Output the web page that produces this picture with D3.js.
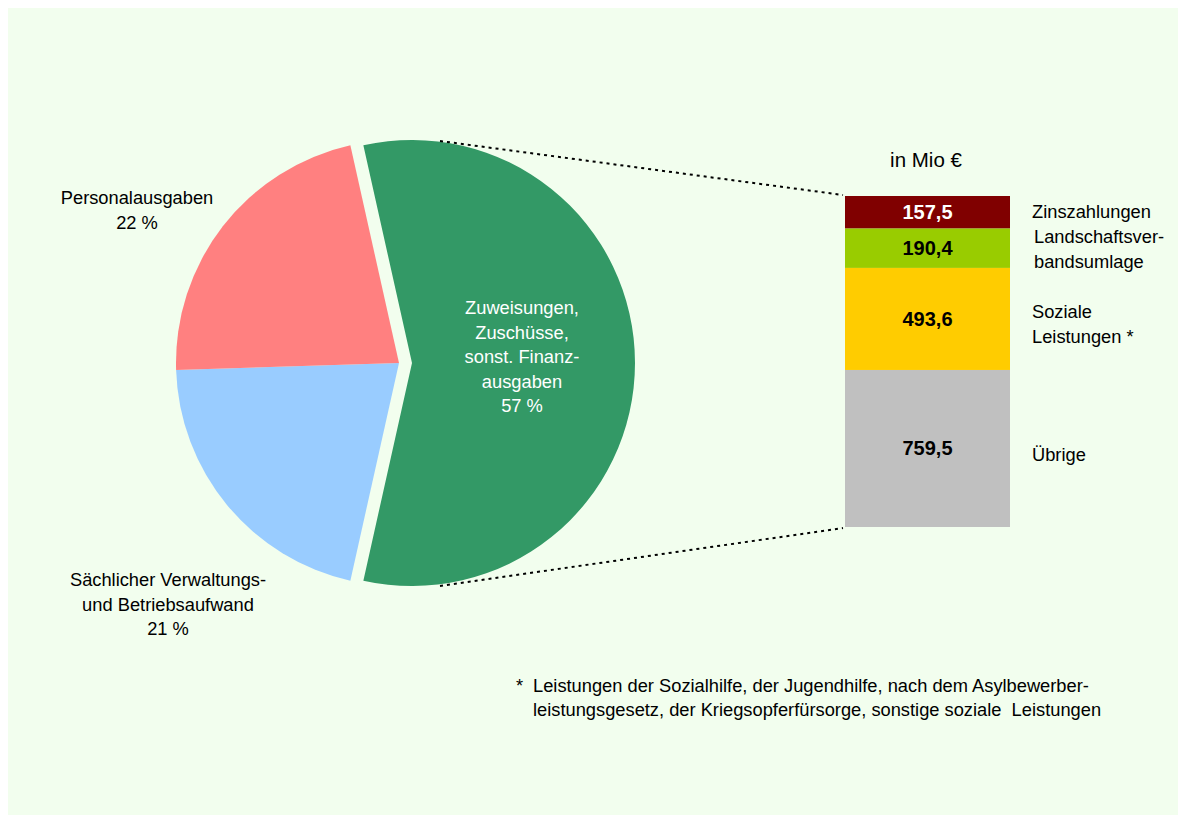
<!DOCTYPE html>
<html>
<head>
<meta charset="utf-8">
<script src="https://cdn.jsdelivr.net/npm/d3@7"></script>
<style>
  html, body { margin: 0; padding: 0; background: #ffffff; }
  svg { display: block; font-family: "Liberation Sans", Arial, sans-serif; }
  text { white-space: pre; }
</style>
</head>
<body>
<svg id="chart" width="1186" height="823"></svg>
<script>
// Ausgaben nach Arten (Anteile in %)
const pieCategories = ["Zuweisungen, Zuschüsse, sonst. Finanzausgaben", "Sächlicher Verwaltungs- und Betriebsaufwand", "Personalausgaben"];
const pieValues = [57, 21, 22];
const pieColors = ["#339966", "#99CCFF", "#FF8080"];
const pieLabelLines = [
  ["Zuweisungen,", "Zuschüsse,", "sonst. Finanz-", "ausgaben", "57 %"],
  ["Sächlicher Verwaltungs-", "und Betriebsaufwand", "21 %"],
  ["Personalausgaben", "22 %"]
];

// Aufgliederung der Zuweisungen/Zuschüsse in Mio €
const barCategories = ["Zinszahlungen", "Landschaftsverbandsumlage", "Soziale Leistungen", "Übrige"];
const barValues = [157.5, 190.4, 493.6, 759.5];
const barColors = ["#800000", "#99CC00", "#FFCC00", "#C0C0C0"];
const barValueColors = ["#ffffff", "#000000", "#000000", "#000000"];
const barLabelLines = [["Zinszahlungen"], ["Landschaftsver-", "bandsumlage"], ["Soziale", "Leistungen *"], ["Übrige"]];

const footnoteLines = [
  "Leistungen der Sozialhilfe, der Jugendhilfe, nach dem Asylbewerber-",
  "leistungsgesetz, der Kriegsopferfürsorge, sonstige soziale  Leistungen"
];

const fmt = v => d3.format(".1f")(v).replace(".", ",");
const labelSize = 18.3;

const svg = d3.select("#chart");

// Hintergrundfläche
svg.append("rect").attr("x", 8).attr("y", 8).attr("width", 1170).attr("height", 807)
  .attr("fill", "#F2FEEE");

// ---- Kreisdiagramm ----
const cx = 399, cy = 363, radius = 223;
const explode = [13, 0, 0];
const frac = pieValues[0] / d3.sum(pieValues);
const start = Math.PI / 2 - frac * Math.PI;
const pie = d3.pie().sort(null).startAngle(start).endAngle(start + 2 * Math.PI);
const arcs = pie(pieValues);
const arc = d3.arc().innerRadius(0).outerRadius(radius);

const pieG = svg.append("g").attr("transform", `translate(${cx},${cy})`);
pieG.selectAll("path").data(arcs).join("path")
  .attr("d", arc)
  .attr("fill", (d, i) => pieColors[i])
  .attr("transform", (d, i) => {
    const a = (d.startAngle + d.endAngle) / 2;
    return `translate(${explode[i] * Math.sin(a)},${-explode[i] * Math.cos(a)})`;
  });

// Beschriftung der Kreissegmente
const pieLabelPos = [[522, 314, "#ffffff"], [168, 586, "#000000"], [137, 204, "#000000"]];
pieLabelLines.forEach((lines, i) => {
  const [x, y, col] = pieLabelPos[i];
  const t = svg.append("text").attr("x", x).attr("y", y).attr("text-anchor", "middle")
    .attr("font-size", labelSize).attr("fill", col);
  lines.forEach((l, j) => t.append("tspan").attr("x", x).attr("dy", j === 0 ? 0 : 24.6).text(l));
});

// ---- Gestapelte Säule ----
const total = d3.sum(barValues);
const y = d3.scaleLinear().domain([0, total]).range([196, 527]);
const x = d3.scaleBand().domain(["Zuweisungen"]).range([845, 1010]).padding(0);
const stacks = [];
let acc = 0;
barValues.forEach((v, i) => { stacks.push({ i, y0: acc, y1: acc + v, v }); acc += v; });

svg.selectAll("rect.seg").data(stacks).join("rect").attr("class", "seg")
  .attr("x", x("Zuweisungen"))
  .attr("width", x.bandwidth())
  .attr("y", d => y(d.y0))
  .attr("height", d => y(d.y1) - y(d.y0))
  .attr("fill", d => barColors[d.i]);

svg.selectAll("text.val").data(stacks).join("text").attr("class", "val")
  .attr("x", x("Zuweisungen") + x.bandwidth() / 2)
  .attr("y", d => (y(d.y0) + y(d.y1)) / 2 + 7)
  .attr("text-anchor", "middle")
  .attr("font-size", 20).attr("font-weight", "bold")
  .attr("fill", d => barValueColors[d.i])
  .text(d => fmt(d.v));

// Kategorienbeschriftung rechts
const catLabelPos = [[1032, 218], [1034, 243], [1032, 318], [1032, 461]];
barLabelLines.forEach((lines, i) => {
  const [lx, ly] = catLabelPos[i];
  const t = svg.append("text").attr("x", lx).attr("y", ly).attr("font-size", labelSize).attr("fill", "#000");
  lines.forEach((l, j) => t.append("tspan").attr("x", lx).attr("dy", j === 0 ? 0 : 25).text(l));
});

svg.append("text").attr("x", 926).attr("y", 167).attr("text-anchor", "middle")
  .attr("font-size", 20.5).text("in Mio €");

// Verbindungslinien zwischen Kreis und Säule
const connectors = [
  [[440, 141], [843, y(0) - 1]],
  [[440, 586], [843, y(total) + 1]]
];
svg.selectAll("line.conn").data(connectors).join("line").attr("class", "conn")
  .attr("x1", d => d[0][0]).attr("y1", d => d[0][1])
  .attr("x2", d => d[1][0]).attr("y2", d => d[1][1])
  .attr("stroke", "#000").attr("stroke-width", 2).attr("stroke-dasharray", "3,4");

// Fußnote
const fn = svg.append("text").attr("font-size", labelSize).attr("fill", "#000");
fn.append("tspan").attr("x", 516).attr("y", 692).text("*");
fn.append("tspan").attr("x", 533).attr("y", 692).text(footnoteLines[0]);
fn.append("tspan").attr("x", 533).attr("y", 716).text(footnoteLines[1]);
</script>
</body>
</html>
